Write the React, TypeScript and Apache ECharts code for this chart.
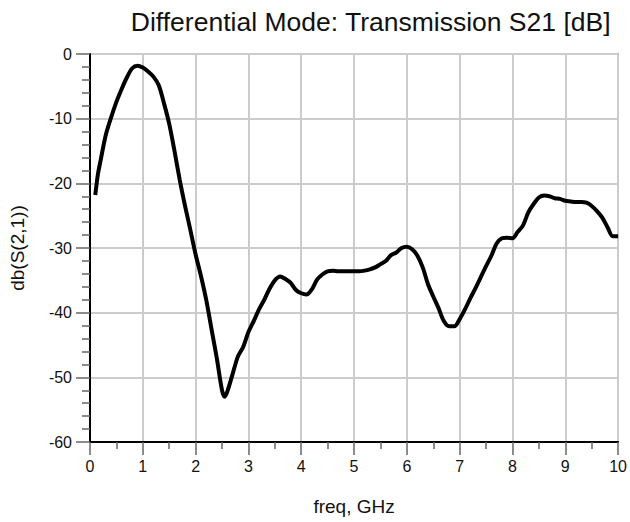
import React, { useEffect, useRef } from "react";
import * as echarts from "echarts";

const freq = [
  0.1, 0.15, 0.2, 0.3, 0.4, 0.5, 0.6, 0.7, 0.8, 0.9,
  1.0, 1.1, 1.2, 1.3, 1.4, 1.5, 1.6, 1.7, 1.8, 1.9,
  2.0, 2.1, 2.2, 2.3, 2.4, 2.5, 2.55, 2.6, 2.7, 2.8, 2.9,
  3.0, 3.1, 3.2, 3.3, 3.4, 3.5, 3.6, 3.7, 3.8, 3.9,
  4.0, 4.1, 4.2, 4.3, 4.4, 4.5, 4.6, 4.7, 4.8, 4.9,
  5.0, 5.1, 5.2, 5.3, 5.4, 5.5, 5.6, 5.7, 5.8, 5.9,
  6.0, 6.1, 6.2, 6.3, 6.4, 6.5, 6.6, 6.7, 6.8, 6.9,
  7.0, 7.1, 7.2, 7.3, 7.4, 7.5, 7.6, 7.7, 7.8, 7.9,
  8.0, 8.1, 8.2, 8.3, 8.4, 8.5, 8.6, 8.7, 8.8, 8.9,
  9.0, 9.1, 9.2, 9.3, 9.4, 9.5, 9.6, 9.7, 9.8, 9.9, 10.0,
];

const s21dB = [
  -21.8, -18.6, -16.5, -12.5, -9.8, -7.4, -5.4, -3.6, -2.2, -1.8,
  -2.1, -2.7, -3.5, -4.8, -7.6, -10.8, -15.0, -19.5, -23.5, -27.2,
  -31.0, -34.3, -38.0, -42.5, -47.0, -52.0, -53.0, -52.2, -49.5, -46.8, -45.3,
  -43.0, -41.3, -39.5, -38.0, -36.3, -35.0, -34.4, -34.8, -35.4, -36.5,
  -37.0, -37.2, -36.4, -34.9, -34.1, -33.6, -33.5, -33.6, -33.6, -33.6,
  -33.6, -33.6, -33.5, -33.3, -33.0, -32.5, -32.0, -31.1, -30.7, -30.0,
  -29.8, -30.2, -31.2, -33.0, -35.6, -37.5, -39.3, -41.3, -42.1, -42.1,
  -41.0, -39.5, -37.8, -36.2, -34.5, -32.8, -31.2, -29.3, -28.5, -28.4,
  -28.5, -27.5, -26.5, -24.5, -23.2, -22.2, -21.9, -22.0, -22.3, -22.4,
  -22.7, -22.8, -22.9, -22.9, -23.0, -23.5, -24.3, -25.3, -26.8, -28.2, -28.2,
];

const titleText = "Differential Mode: Transmission S21 [dB]";
const xName = "freq, GHz";
const yName = "db(S(2,1))";

const FONT = "'Liberation Sans', Arial, sans-serif";

export default function App() {
  const ref = useRef<HTMLDivElement>(null);
  useEffect(() => {
    document.body.style.margin = "0";
    const chart = echarts.init(ref.current!, null, { renderer: "svg" });
    chart.setOption({
      animation: false,
      backgroundColor: "#ffffff",
      textStyle: { fontFamily: FONT },
      title: {
        text: titleText,
        right: 14,
        top: 3,
        textStyle: { fontFamily: FONT, fontSize: 26.5, fontWeight: "normal", color: "#111" },
      },
      grid: {
        left: 89,
        top: 54,
        width: 530,
        height: 388,
        show: true,
        borderColor: "#777",
        borderWidth: 1.5,
        backgroundColor: "transparent",
      },
      xAxis: {
        type: "value",
        min: 0,
        max: 10,
        interval: 1,
        name: xName,
        nameLocation: "middle",
        nameGap: 55,
        nameTextStyle: { fontFamily: FONT, fontSize: 19, color: "#111" },
        axisLine: { show: true, onZero: false, lineStyle: { color: "#000", width: 2 } },
        axisTick: { show: true, length: 13, lineStyle: { color: "#666", width: 1.5 } },
        minorTick: { show: true, splitNumber: 2, length: 7, lineStyle: { color: "#666", width: 1.5 } },
        axisLabel: { fontFamily: FONT, fontSize: 16, color: "#111", margin: 16 },
        splitLine: { show: true, lineStyle: { color: "#cccccc", width: 2 } },
      },
      yAxis: {
        type: "value",
        min: -60,
        max: 0,
        interval: 10,
        name: yName,
        nameLocation: "middle",
        nameGap: 63,
        nameTextStyle: { fontFamily: FONT, fontSize: 19, color: "#111" },
        axisLine: { show: true, onZero: false, lineStyle: { color: "#000", width: 2 } },
        axisTick: { show: true, length: 14, lineStyle: { color: "#666", width: 1.5 } },
        minorTick: { show: true, splitNumber: 5, length: 8, lineStyle: { color: "#666", width: 1.5 } },
        axisLabel: { fontFamily: FONT, fontSize: 16, color: "#111", margin: 18 },
        splitLine: { show: true, lineStyle: { color: "#cccccc", width: 2 } },
      },
      series: [
        {
          type: "line",
          data: freq.map((f, i) => [f, s21dB[i]]),
          showSymbol: false,
          symbol: "none",
          smooth: 0.3,
          lineStyle: { color: "#000", width: 4 },
          z: 5,
        },
      ],
    });
    return () => chart.dispose();
  }, []);
  return <div ref={ref} style={{ width: 630, height: 522 }} />;
}
